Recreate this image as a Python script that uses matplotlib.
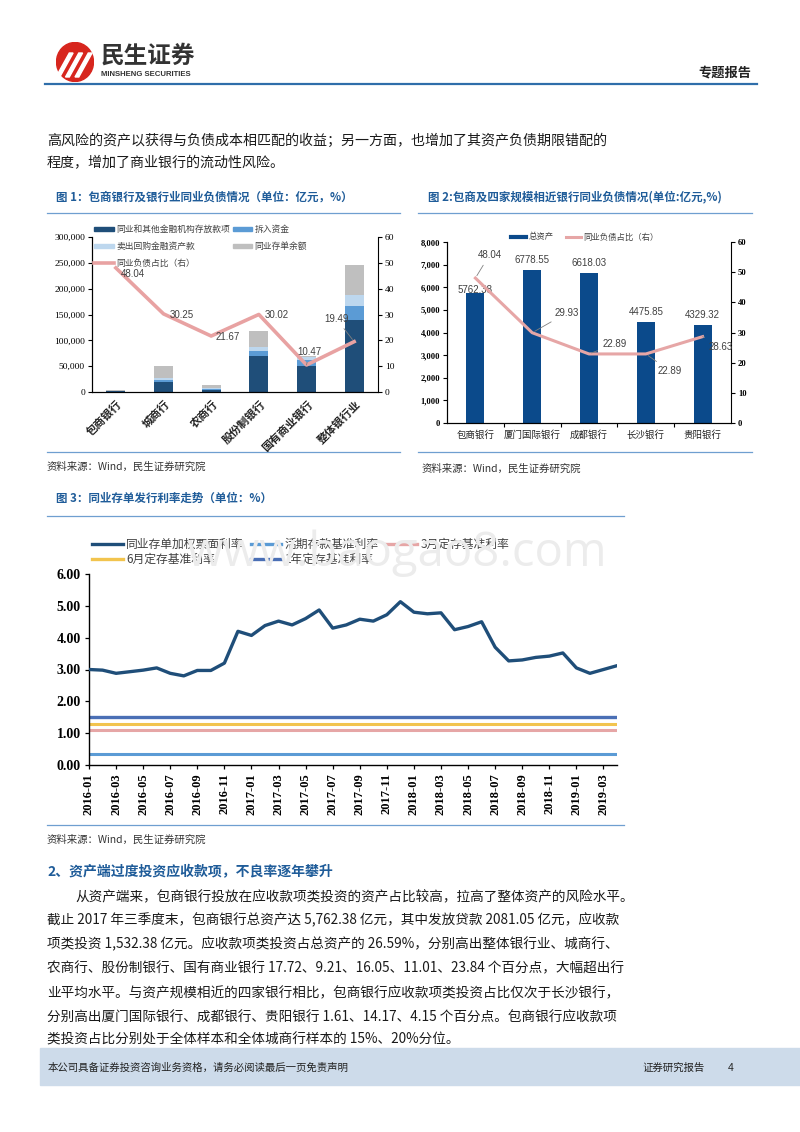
import numpy as np
import matplotlib.pyplot as plt
from matplotlib.patches import Rectangle, Ellipse, Patch, Polygon
from matplotlib.lines import Line2D
from matplotlib.ticker import FuncFormatter

plt.rcParams['font.family'] = ['Noto Sans CJK SC', 'DejaVu Sans']

# ---- data: figure 1 (亿元, %)
banks1 = ['包商银行', '城商行', '农商行', '股份制银行', '国有商业银行', '整体银行业']
deposits1 = [1800, 18700, 4500, 69000, 49700, 138700]
borrow1 = [500, 5200, 2000, 11000, 11600, 28400]
repo1 = [300, 3800, 1900, 7100, 5800, 20000]
cd1 = [600, 22000, 4500, 30300, 3200, 58700]
ratio1 = [48.04, 30.25, 21.67, 30.02, 10.47, 19.49]
names1 = ['同业和其他金融机构存放款项', '拆入资金', '卖出回购金融资产款', '同业存单余额']

# ---- data: figure 2
banks2 = ['包商银行', '厦门国际银行', '成都银行', '长沙银行', '贵阳银行']
assets2 = [5762.38, 6778.55, 6618.03, 4475.85, 4329.32]
ratio2 = [48.04, 29.93, 22.89, 22.89, 28.63]

# ---- data: figure 3 (monthly, 2016-01 .. 2019-04)
months3 = ['%d-%02d' % (y, m) for y in (2016, 2017, 2018, 2019) for m in range(1, 13)][:40]
cd_rate = [3.00, 2.98, 2.88, 2.93, 2.98, 3.05, 2.88, 2.80, 2.97, 2.97,
           3.20, 4.20, 4.07, 4.38, 4.52, 4.40, 4.60, 4.87, 4.30, 4.40,
           4.58, 4.52, 4.72, 5.13, 4.80, 4.75, 4.78, 4.25, 4.35, 4.50,
           3.70, 3.27, 3.30, 3.38, 3.42, 3.52, 3.05, 2.88, 3.00, 3.12]
demand_rate = 0.35
m3_rate = 1.10
m6_rate = 1.30
y1_rate = 1.50

W, H = 800, 1132
fig = plt.figure(figsize=(8, 11.32), dpi=100)


def fx(x):
    return x / W


def fy(y):
    return 1 - y / H


def place(left, top, right, bottom):
    return fig.add_axes([fx(left), fy(bottom), (right - left) / W, (bottom - top) / H])


def txt(x, y, s, **kw):
    kw.setdefault('va', 'center')
    fig.text(fx(x), fy(y), s, **kw)


def rule(x0, x1, y, color='#6f9fd0', lw=0.9):
    fig.add_artist(Line2D([fx(x0), fx(x1)], [fy(y), fy(y)], transform=fig.transFigure,
                          color=color, lw=lw))


blue_t = '#1f5c99'
serif = 'Liberation Serif'
sans = 'Liberation Sans'

# ---------------- header
lg = place(56, 42, 94, 82)
lg.set_xlim(-1, 1)
lg.set_ylim(-1, 1)
lg.axis('off')
lg.add_patch(Ellipse((0, 0), 1.95, 1.95, color='#d7261e'))
for off in (-0.45, 0.05, 0.55):
    lg.add_patch(Polygon([(-0.55 + off, -0.75), (-0.35 + off, -0.75),
                          (0.35 + off, 0.45), (0.15 + off, 0.45)], closed=True, color='white'))
txt(101, 56, '民生证券', fontsize=17, fontweight='bold', color='#333333')
txt(101, 74, 'MINSHENG SECURITIES', fontsize=5.6, fontweight='bold', color='#333333',
    family=sans)
txt(698, 72, '专题报告', fontsize=9.5, fontweight='bold', color='#222222')
rule(45, 757, 84, color='#2f6eaa', lw=1.6)

# ---------------- top text
txt(47, 141, '高风险的资产以获得与负债成本相匹配的收益；另一方面，也增加了其资产负债期限错配的',
    fontsize=10.1, color='#1a1a1a')
txt(47, 163, '程度，增加了商业银行的流动性风险。', fontsize=10.1, color='#1a1a1a')

# ---------------- titles
txt(56, 197, '图 1：包商银行及银行业同业负债情况（单位：亿元，%）', fontsize=8.3,
    fontweight='bold', color=blue_t)
rule(47, 400, 213)
txt(428, 197, '图 2:包商及四家规模相近银行同业负债情况(单位:亿元,%)', fontsize=8.3,
    fontweight='bold', color=blue_t)
rule(418, 752, 213)

# ---------------- figure 1
ax1 = place(92, 237, 378, 392)
x1 = np.arange(len(banks1))
colors1 = ['#1f4e79', '#5b9bd5', '#bdd7ee', '#bfbfbf']
bottom = np.zeros(len(banks1))
for vals, c in zip([deposits1, borrow1, repo1, cd1], colors1):
    ax1.bar(x1, vals, 0.4, bottom=bottom, color=c, zorder=2)
    bottom += np.array(vals)
ax1.set_xlim(-0.5, 5.5)
ax1.set_ylim(0, 300000)
ax1.set_yticks(range(0, 300001, 50000))
ax1.yaxis.set_major_formatter(FuncFormatter(lambda v, p: f'{int(v):,}'))
ax1.set_xticks(x1)
ax1.set_xticklabels(banks1, rotation=45, ha='right', rotation_mode='anchor',
                    fontsize=8, fontweight='bold', color='#222222')
ax1.tick_params(axis='x', length=0, pad=4)
ax1.tick_params(axis='y', length=3, width=0.8, labelsize=6.8, pad=2)
for lab in ax1.get_yticklabels():
    lab.set_family(serif)
ax1.spines['top'].set_visible(False)
ax1.spines['right'].set_visible(False)

ax1r = ax1.twinx()
ax1r.plot(x1, ratio1, color='#e8a2a2', lw=2.6, solid_joinstyle='round', zorder=3)
ax1r.set_ylim(0, 60)
ax1r.set_yticks(range(0, 61, 10))
ax1r.tick_params(axis='y', length=3, width=0.8, labelsize=6.8, pad=2)
for lab in ax1r.get_yticklabels():
    lab.set_family(serif)
ax1r.spines['top'].set_visible(False)
offs1 = [(17, -6), (18, -1), (17, -1), (18, -1), (3, 13), (-18, 23)]
for i, (v, o) in enumerate(zip(ratio1, offs1)):
    lead = dict(arrowstyle='-', color='#808080', lw=0.6) if i >= 4 else None
    ax1r.annotate(f'{v:.2f}', (i, v), xytext=o, textcoords='offset pixels', ha='center',
                  va='center', fontsize=7, color='#404040', family=sans, arrowprops=lead)

h1 = [Patch(color=colors1[0]), Patch(color=colors1[2]),
      Line2D([], [], color='#e8a2a2', lw=2.6),
      Patch(color=colors1[1]), Patch(color=colors1[3])]
l1 = [names1[0], names1[2], '同业负债占比（右）', names1[1], names1[3]]
ax1r.legend(h1, l1, loc='upper left', bbox_to_anchor=(fx(90), fy(221)),
            bbox_transform=fig.transFigure, ncol=2, frameon=False, fontsize=6.3,
            handlelength=2.2, handleheight=0.4, handletextpad=0.3, columnspacing=0.3,
            labelspacing=0.9, borderpad=0, labelcolor='#404040')

rule(47, 400, 452)
txt(47, 467, '资料来源：Wind，民生证券研究院', fontsize=7.5, color='#333333')

# ---------------- figure 2
ax2 = place(447, 242, 731, 423)
x2 = np.arange(len(banks2))
ax2.bar(x2, assets2, 0.32, color='#0b4a8b', zorder=2)
ax2.set_xlim(-0.5, 4.5)
ax2.set_ylim(0, 8000)
ax2.set_yticks(range(0, 8001, 1000))
ax2.yaxis.set_major_formatter(FuncFormatter(lambda v, p: f'{int(v):,}'))
ax2.set_xticks(x2)
ax2.set_xticklabels(banks2, fontsize=6.8, color='#222222')
ax2.set_xticks(x2[:-1] + 0.5, minor=True)
ax2.tick_params(axis='x', which='major', length=0, pad=5)
ax2.tick_params(axis='x', which='minor', length=3, width=0.8)
ax2.tick_params(axis='y', length=3, width=0.8, labelsize=6.2, pad=2)
for lab in ax2.get_yticklabels():
    lab.set_family(serif)
    lab.set_fontweight('bold')
ax2.spines['top'].set_visible(False)
ax2.spines['right'].set_visible(False)
bar_dy = [3, 10, 10, 10, 10]
for i, (v, d) in enumerate(zip(assets2, bar_dy)):
    ax2.annotate(f'{v:.2f}', (i, v), xytext=(0, d), textcoords='offset pixels', ha='center',
                 va='center', fontsize=7, color='#404040', family=sans)

ax2r = ax2.twinx()
ax2r.plot(x2, ratio2, color='#e6a6a6', lw=2.2, solid_joinstyle='round', zorder=3)
ax2r.set_ylim(0, 60)
ax2r.set_yticks(range(0, 61, 10))
ax2r.tick_params(axis='y', length=3, width=0.8, labelsize=6.2, pad=2)
for lab in ax2r.get_yticklabels():
    lab.set_family(serif)
    lab.set_fontweight('bold')
ax2r.spines['top'].set_visible(False)
offs2 = [(14, 23), (35, 20), (26, 10), (24, -17), (18, -10)]
for i, (v, o) in enumerate(zip(ratio2, offs2)):
    ax2r.annotate(f'{v:.2f}', (i, v), xytext=o, textcoords='offset pixels', ha='center',
                  va='center', fontsize=7, color='#404040', family=sans, zorder=6,
                  arrowprops=dict(arrowstyle='-', color='#808080', lw=0.6))
h2 = [Line2D([], [], color='#0b4a8b', lw=3), Line2D([], [], color='#e6a6a6', lw=2.2)]
ax2r.legend(h2, ['总资产', '同业负债占比（右）'], loc='center',
            bbox_to_anchor=(fx(585), fy(237)), bbox_transform=fig.transFigure, ncol=2,
            frameon=False, fontsize=6, handlelength=1.8, handletextpad=0.3,
            columnspacing=1.5, borderpad=0, labelcolor='#404040')

rule(418, 752, 452)
txt(422, 469, '资料来源：Wind，民生证券研究院', fontsize=7.5, color='#333333')

# ---------------- figure 3
txt(56, 498, '图 3：同业存单发行利率走势（单位：%）', fontsize=8.3, fontweight='bold', color=blue_t)
rule(47, 624, 516)
# faint site watermark sitting behind the legend
txt(607, 553, 'www.baogao8.com', fontsize=34, color='#ececec', ha='right', family='Open Sans',
    zorder=0)

ax3 = place(89, 574, 617, 765)
ax3.patch.set_alpha(0)
x3 = np.arange(len(months3))
ax3.plot(x3, cd_rate, color='#1f4e79', lw=2.4, solid_joinstyle='round',
         solid_capstyle='round', zorder=5)
ax3.plot(x3, np.full(len(x3), demand_rate), color='#5b9bd5', lw=2.2)
ax3.plot(x3, np.full(len(x3), m3_rate), color='#e6a6a6', lw=2.2)
ax3.plot(x3, np.full(len(x3), m6_rate), color='#f2c44e', lw=2.2)
ax3.plot(x3, np.full(len(x3), y1_rate), color='#4a6fb5', lw=2.4)
ax3.set_xlim(0, len(x3) - 1)
ax3.set_ylim(0, 6)
ax3.set_yticks(range(0, 7))
ax3.yaxis.set_major_formatter(FuncFormatter(lambda v, p: f'{v:.2f}'))
ax3.set_xticks(x3[::2])
ax3.set_xticklabels(months3[::2], rotation=90)
ax3.tick_params(axis='both', length=3, width=0.9, pad=3)
for lab in ax3.get_xticklabels():
    lab.set_family(serif)
    lab.set_fontweight('bold')
    lab.set_fontsize(9)
for lab in ax3.get_yticklabels():
    lab.set_family(serif)
    lab.set_fontweight('bold')
    lab.set_fontsize(10)
ax3.spines['top'].set_visible(False)
ax3.spines['right'].set_visible(False)
ax3.spines['left'].set_linewidth(1)
ax3.spines['bottom'].set_linewidth(1)

h3 = [Line2D([], [], color='#1f4e79', lw=2.4), Line2D([], [], color='#f2c44e', lw=2.4),
      Line2D([], [], color='#5b9bd5', lw=2.4), Line2D([], [], color='#4a6fb5', lw=2.4),
      Line2D([], [], color='#e6a6a6', lw=2.4)]
l3 = ['同业存单加权票面利率', '6月定存基准利率', '活期存款基准利率', '1年定存基准利率',
      '3月定存基准利率']
ax3.legend(h3, l3, loc='upper left', bbox_to_anchor=(fx(86), fy(532)),
           bbox_transform=fig.transFigure, ncol=3, frameon=False, fontsize=8.5,
           handlelength=2.6, handletextpad=0.3, columnspacing=0.6, labelspacing=0.2,
           borderpad=0, labelcolor='#404040')

rule(47, 624, 825)
txt(47, 840, '资料来源：Wind，民生证券研究院', fontsize=7.5, color='#333333')

# ---------------- section text
txt(47, 872, '2、资产端过度投资应收款项，不良率逐年攀升', fontsize=10, fontweight='bold', color=blue_t)
body = ['从资产端来，包商银行投放在应收款项类投资的资产占比较高，拉高了整体资产的风险水平。',
        '截止 2017 年三季度末，包商银行总资产达 5,762.38 亿元，其中发放贷款 2081.05 亿元，应收款',
        '项类投资 1,532.38 亿元。应收款项类投资占总资产的 26.59%，分别高出整体银行业、城商行、',
        '农商行、股份制银行、国有商业银行 17.72、9.21、16.05、11.01、23.84 个百分点，大幅超出行',
        '业平均水平。与资产规模相近的四家银行相比，包商银行应收款项类投资占比仅次于长沙银行，',
        '分别高出厦门国际银行、成都银行、贵阳银行 1.61、14.17、4.15 个百分点。包商银行应收款项',
        '类投资占比分别处于全体样本和全体城商行样本的 15%、20%分位。']
body_y = [897, 920, 944, 968, 993, 1018, 1040]
for i, (s, y) in enumerate(zip(body, body_y)):
    txt(75 if i == 0 else 47, y, s, fontsize=9.8, color='#1a1a1a')

# ---------------- footer
fig.add_artist(Rectangle((fx(40), fy(1085)), 1 - fx(40), (1085 - 1048) / H,
                         transform=fig.transFigure, color='#cddbea', zorder=0))
txt(48, 1068, '本公司具备证券投资咨询业务资格，请务必阅读最后一页免责声明', fontsize=7.5,
    color='#222222', fontweight='medium')
txt(642, 1068, '证券研究报告', fontsize=7.5, color='#222222', fontweight='medium')
txt(728, 1068, '4', fontsize=7.5, color='#222222', family=sans)

fig.savefig('out.png', dpi=100)
